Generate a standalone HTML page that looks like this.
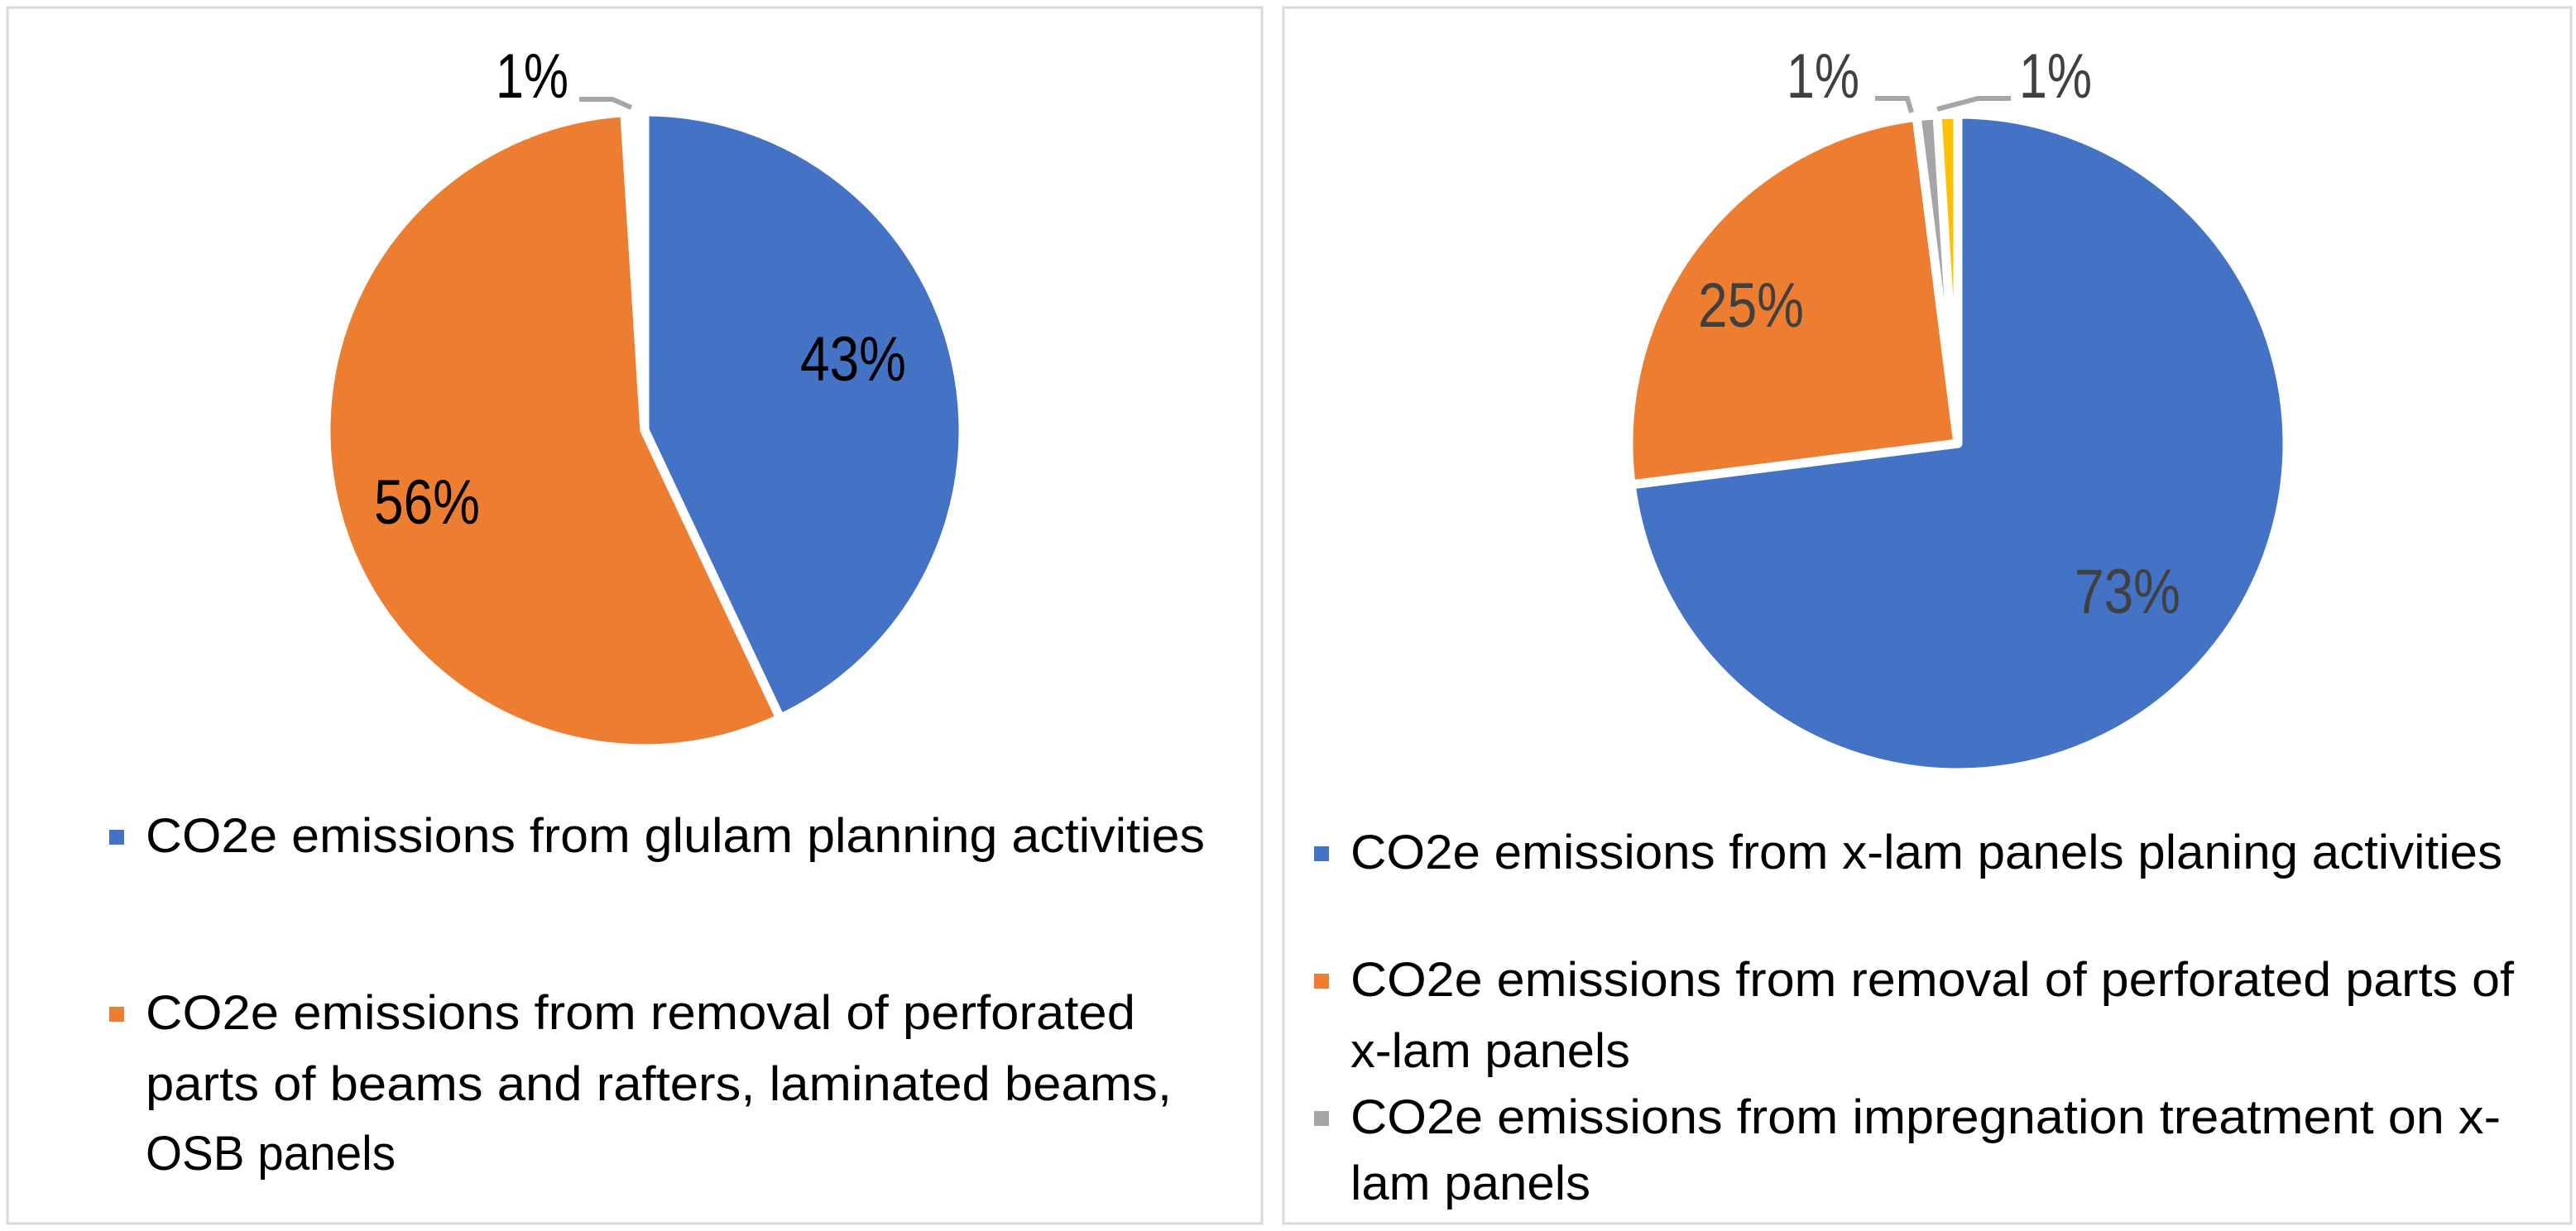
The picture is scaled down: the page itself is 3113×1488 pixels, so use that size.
<!DOCTYPE html>
<html><head><meta charset="utf-8"><style>
html,body{margin:0;padding:0;background:#fff;}
svg{display:block;}
text{font-family:"Liberation Sans",Carlito,sans-serif;}
</style></head><body>
<svg id="chart" width="3113" height="1488" viewBox="0 0 3113 1488" xmlns="http://www.w3.org/2000/svg">
<rect x="9" y="9" width="1516" height="1470" fill="#fff" stroke="#d9d9d9" stroke-width="3"/>
<rect x="1551" y="9" width="1556" height="1470" fill="#fff" stroke="#d9d9d9" stroke-width="3"/>
<g id="leftPie"></g>
<g id="rightPie"></g>
<polyline points="700,120 740,120 763,130" fill="none" stroke="#a6a6a6" stroke-width="6"/>
<polyline points="2266,119 2305,119 2310,136" fill="none" stroke="#a6a6a6" stroke-width="6"/>
<polyline points="2341,132 2390,119 2430,119" fill="none" stroke="#a6a6a6" stroke-width="6"/>
<g font-size="76">
<text x="1031" y="460" text-anchor="middle" fill="#000" textLength="128" lengthAdjust="spacingAndGlyphs">43%</text>
<text x="516" y="633" text-anchor="middle" fill="#000" textLength="128" lengthAdjust="spacingAndGlyphs">56%</text>
<text x="643" y="118" text-anchor="middle" fill="#000" textLength="88" lengthAdjust="spacingAndGlyphs">1%</text>
<text x="2116" y="395" text-anchor="middle" fill="#404040" textLength="128" lengthAdjust="spacingAndGlyphs">25%</text>
<text x="2571" y="741" text-anchor="middle" fill="#404040" textLength="128" lengthAdjust="spacingAndGlyphs">73%</text>
<text x="2203" y="118" text-anchor="middle" fill="#404040" textLength="88" lengthAdjust="spacingAndGlyphs">1%</text>
<text x="2484" y="118" text-anchor="middle" fill="#404040" textLength="88" lengthAdjust="spacingAndGlyphs">1%</text>
</g>

<g font-size="58" fill="#000">
<rect x="132" y="1003" width="18" height="18" fill="#4472c4"/>
<text x="176" y="1030" textLength="1280" lengthAdjust="spacingAndGlyphs">CO2e emissions from glulam planning activities</text>
<rect x="132" y="1217" width="18" height="18" fill="#ed7d31"/>
<text x="176" y="1244" textLength="1196" lengthAdjust="spacingAndGlyphs">CO2e emissions from removal of perforated</text>
<text x="176" y="1330" textLength="1240" lengthAdjust="spacingAndGlyphs">parts of beams and rafters, laminated beams,</text>
<text x="176" y="1414" textLength="302" lengthAdjust="spacingAndGlyphs">OSB panels</text>
</g>
<g font-size="58" fill="#000">
<rect x="1588" y="1023" width="18" height="18" fill="#4472c4"/>
<text x="1632" y="1050" textLength="1392" lengthAdjust="spacingAndGlyphs">CO2e emissions from x-lam panels planing activities</text>
<rect x="1588" y="1177" width="18" height="18" fill="#ed7d31"/>
<text x="1632" y="1204" textLength="1406" lengthAdjust="spacingAndGlyphs">CO2e emissions from removal of perforated parts of</text>
<text x="1632" y="1290" textLength="338" lengthAdjust="spacingAndGlyphs">x-lam panels</text>
<rect x="1588" y="1343" width="18" height="18" fill="#a5a5a5"/>
<text x="1632" y="1370" textLength="1390" lengthAdjust="spacingAndGlyphs">CO2e emissions from impregnation treatment on x-</text>
<text x="1632" y="1450" textLength="290" lengthAdjust="spacingAndGlyphs">lam panels</text>
</g>
</svg>
<script>
const leftNames = ["glulam-planning", "removal", "other"];
const leftValues = [43, 56, 1];
const leftColors = ["#4472c4", "#ed7d31", "#ffffff"];
const rightNames = ["xlam-planing", "xlam-removal", "impregnation", "other"];
const rightValues = [73, 25, 1, 1];
const rightColors = ["#4472c4", "#ed7d31", "#a5a5a5", "#ffc000"];

function drawPie(gId, names, values, colors, cx, cy, r) {
  const g = document.getElementById(gId);
  const total = values.reduce((a, b) => a + b, 0);
  let a0 = -Math.PI / 2;
  values.forEach((v, i) => {
    const a1 = a0 + v / total * 2 * Math.PI;
    const x0 = cx + r * Math.cos(a0), y0 = cy + r * Math.sin(a0);
    const x1 = cx + r * Math.cos(a1), y1 = cy + r * Math.sin(a1);
    const large = (a1 - a0) > Math.PI ? 1 : 0;
    const p = document.createElementNS("http://www.w3.org/2000/svg", "path");
    p.setAttribute("d", `M${cx},${cy} L${x0},${y0} A${r},${r} 0 ${large} 1 ${x1},${y1} Z`);
    p.setAttribute("fill", colors[i]);
    p.setAttribute("stroke", "#fff");
    p.setAttribute("stroke-width", "11");
    p.setAttribute("stroke-linejoin", "round");
    
    
    g.appendChild(p);
    a0 = a1;
  });
}
drawPie("leftPie", leftNames, leftValues, leftColors, 779, 520, 385);
drawPie("rightPie", rightNames, rightValues, rightColors, 2366, 536, 398);
</script>
</body></html>
